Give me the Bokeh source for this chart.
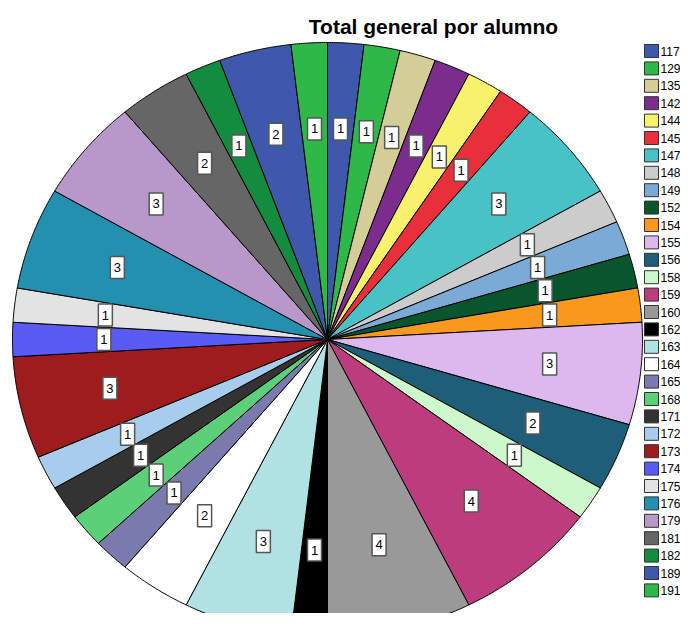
import numpy as np
from bokeh.plotting import figure
from bokeh.models import Range1d, ColumnDataSource
from bokeh.core.properties import value
from bokeh.embed import file_html
from bokeh.resources import INLINE

categories = ["117", "129", "135", "142", "144", "145", "147", "148", "149", "152",
              "154", "155", "156", "158", "159", "160", "162", "163", "164", "165",
              "168", "171", "172", "173", "174", "175", "176", "179", "181", "182",
              "189", "191"]
counts = [1, 1, 1, 1, 1, 1, 3, 1, 1, 1,
          1, 3, 2, 1, 4, 4, 1, 3, 2, 1,
          1, 1, 1, 3, 1, 1, 3, 3, 2, 1,
          2, 1]
colors = ["#3E58AC", "#2EB848", "#D3CE97", "#7B2C8C", "#F8F16B", "#E8303A", "#48C2C5",
          "#CCCCCC", "#7AAAD5", "#0A562C", "#F8981D", "#DCB8EE", "#1F5E78", "#CCF8CC",
          "#BC3C7C", "#999999", "#000000", "#B0E2E4", "#FFFFFF", "#7A7AAD", "#5BD078",
          "#333333", "#A8CCEC", "#9E1B1E", "#5A5AF5", "#E3E3E3", "#2390B0", "#B898C8",
          "#666666", "#148C40", "#3E58AC", "#2EB848"]
title_text = "Total general por alumno"

W, H = 680, 613
p = figure(width=W, height=H, x_range=Range1d(0, W), y_range=Range1d(0, H),
           output_backend="svg", toolbar_location=None, min_border=0)
p.axis.visible = False
p.grid.visible = False
p.outline_line_color = None

# pie geometry (elliptical, as in the reference)
cx, cy, rx, ry = 327, 274, 315, 297
total = sum(counts)
cum = np.cumsum([0] + counts) / total * 2 * np.pi
xs, ys, lx, ly = [], [], [], []
for i in range(len(counts)):
    a0, a1 = cum[i], cum[i + 1]
    t = np.linspace(a0, a1, max(10, counts[i] * 20))
    xs.append([cx] + list(cx + rx * np.sin(t)))
    ys.append([cy] + list(cy + ry * np.cos(t)))
    m = (a0 + a1) / 2
    lx.append(cx + 0.71 * rx * np.sin(m))
    ly.append(cy + 0.71 * ry * np.cos(m))

src = ColumnDataSource(dict(xs=xs, ys=ys, color=colors, cat=categories))
p.patches("xs", "ys", source=src, fill_color="color", line_color="black", line_width=1)

lsrc = ColumnDataSource(dict(x=lx, y=ly, t=[str(c) for c in counts]))
p.rect("x", "y", width=14, height=22, width_units="screen", height_units="screen",
       source=lsrc, fill_color="white", line_color="#555555", line_width=1.5)
p.text("x", "y", text="t", source=lsrc, text_align="center", text_baseline="middle",
       text_font=value("Liberation Sans"), text_font_size="13px", text_color="black")

# legend
n = len(categories)
leg_y = [562.5 - 17.4 * i for i in range(n)]
legsrc = ColumnDataSource(dict(x=[651] * n, tx=[660] * n, y=leg_y, color=colors, cat=categories))
p.rect("x", "y", width=14, height=13, width_units="screen", height_units="screen",
       source=legsrc, fill_color="color", line_color="#333333", line_width=1)
p.text("tx", "y", text="cat", source=legsrc, text_align="left", text_baseline="middle",
       text_font=value("Liberation Sans"), text_font_size="12px", text_color="black")

# title
p.text([433], [587], text=[title_text], text_align="center", text_baseline="alphabetic",
       text_font=value("Liberation Sans"), text_font_size="21px", text_font_style="bold",
       text_color="black")

open("out.html", "w").write(file_html(p, INLINE))
